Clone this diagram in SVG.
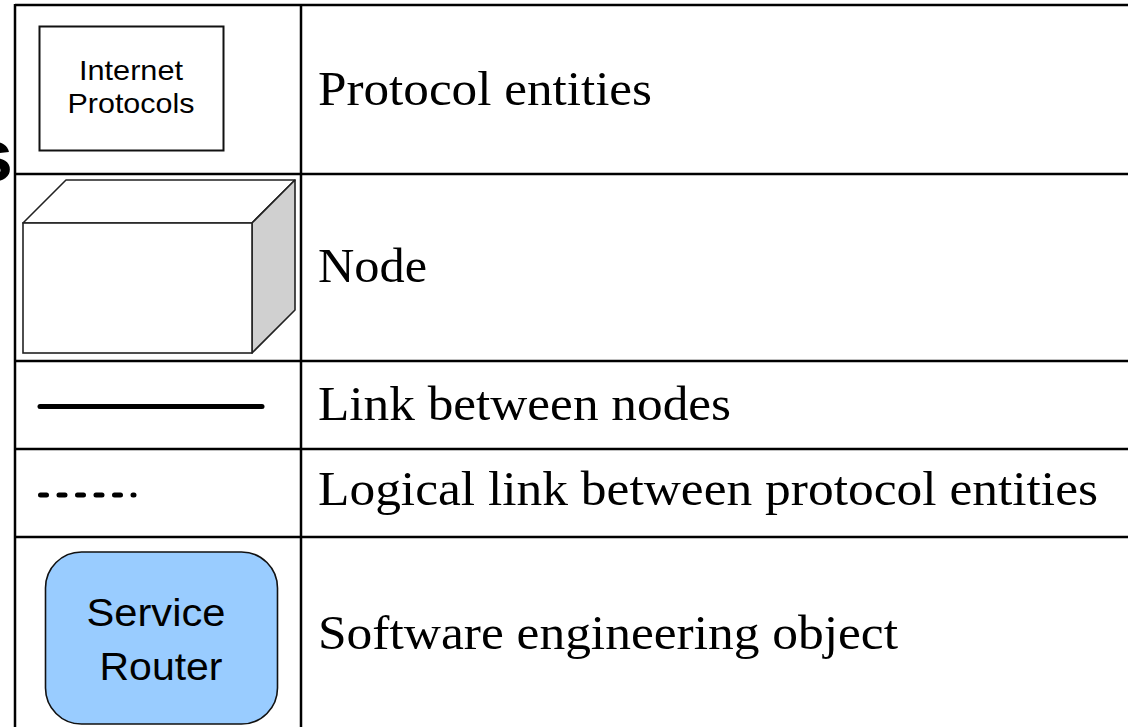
<svg xmlns="http://www.w3.org/2000/svg" width="1128" height="727" viewBox="0 0 1128 727">
  <style>
    .grid { stroke: #000; stroke-width: 2.5; fill: none; }
    .label { font-family: "Liberation Serif", "Times New Roman", serif; font-size: 48px; fill: #000; }
    .sans { font-family: "Liberation Sans", Arial, sans-serif; fill: #000; text-anchor: middle; }
    .edge { stroke: #000; stroke-linecap: round; fill: none; }
  </style>
  <rect x="0" y="0" width="1128" height="727" fill="#fff"/>
  <!-- fragment of a title behind the table (cut off in the reference too) -->
  <text x="13" y="181" font-family="Liberation Sans, Arial, sans-serif" font-weight="bold" font-size="74" text-anchor="end" fill="#000">s</text>
  <!-- table -->
  <g id="table">
    <rect x="15" y="5" width="1120" height="730" fill="#fff" stroke="none"/>
    <line class="grid" x1="15" y1="5" x2="1130" y2="5"/>
    <line class="grid" x1="15" y1="174" x2="1130" y2="174"/>
    <line class="grid" x1="15" y1="361" x2="1130" y2="361"/>
    <line class="grid" x1="15" y1="449" x2="1130" y2="449"/>
    <line class="grid" x1="15" y1="537" x2="1130" y2="537"/>
    <line class="grid" x1="15" y1="4" x2="15" y2="730"/>
    <line class="grid" x1="301" y1="4" x2="301" y2="730"/>
  </g>
  <!-- row 1: protocol entity -->
  <g id="protocol-entity">
    <rect x="39.5" y="26.5" width="184" height="124" fill="#fff" stroke="#111" stroke-width="2"/>
    <text class="sans" x="131" y="80" font-size="28" textLength="104" lengthAdjust="spacingAndGlyphs">Internet</text>
    <text class="sans" x="131" y="113" font-size="28" textLength="127" lengthAdjust="spacingAndGlyphs">Protocols</text>
  </g>
  <text class="label" x="318" y="105" textLength="334" lengthAdjust="spacingAndGlyphs">Protocol entities</text>
  <!-- row 2: node -->
  <g id="node">
    <polygon points="23,223 66,180 295,180 252,223" fill="#fff" stroke="#222" stroke-width="1.6" stroke-linejoin="round"/>
    <polygon points="252,223 295,180 295,310 252,353" fill="#d0d0d0" stroke="#222" stroke-width="1.6" stroke-linejoin="round"/>
    <rect x="23" y="223" width="229" height="130" fill="#fff" stroke="#222" stroke-width="1.6"/>
  </g>
  <text class="label" x="318" y="282" textLength="109" lengthAdjust="spacingAndGlyphs">Node</text>
  <!-- rows 3 and 4: links -->
  <g id="connectors">
    <line class="edge" x1="40" y1="406.5" x2="262" y2="406.5" stroke-width="5"/>
    <line class="edge" x1="40.5" y1="495" x2="134" y2="495" stroke-width="5" stroke-dasharray="6 12.5"/>
  </g>
  <text class="label" x="318" y="420" textLength="413" lengthAdjust="spacingAndGlyphs">Link between nodes</text>
  <text class="label" x="318" y="505" textLength="780" lengthAdjust="spacingAndGlyphs">Logical link between protocol entities</text>
  <!-- row 5: software engineering object -->
  <g id="service-router">
    <rect x="45.5" y="552" width="232" height="172" rx="36" ry="36" fill="#99ccff" stroke="#111" stroke-width="1.6"/>
    <text class="sans" x="156" y="626" font-size="38" textLength="139" lengthAdjust="spacingAndGlyphs">Service</text>
    <text class="sans" x="161" y="680" font-size="38" textLength="123" lengthAdjust="spacingAndGlyphs">Router</text>
  </g>
  <text class="label" x="318" y="649" textLength="580" lengthAdjust="spacingAndGlyphs">Software engineering object</text>
</svg>
